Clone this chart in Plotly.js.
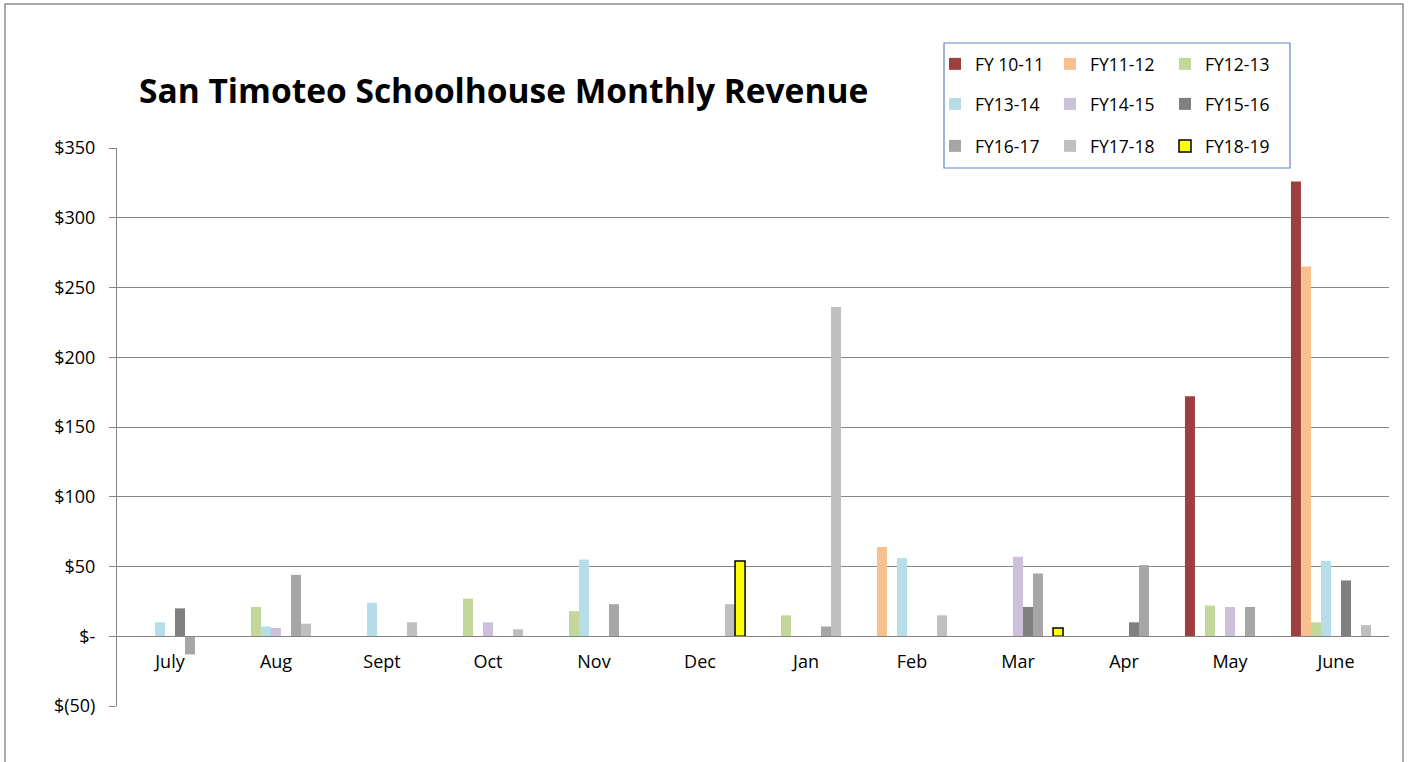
<!DOCTYPE html>
<html>
<head>
<meta charset="utf-8">
<script src="https://cdn.plot.ly/plotly-3.0.1.min.js"></script>
<style>html,body{margin:0;padding:0;background:#fff;}#chart{width:1409px;height:762px;}</style>
</head>
<body>
<div id="chart"></div>
<script>
var months = ["July","Aug","Sept","Oct","Nov","Dec","Jan","Feb","Mar","Apr","May","June"];
var seriesNames = ["FY 10-11","FY11-12","FY12-13","FY13-14","FY14-15","FY15-16","FY16-17","FY17-18","FY18-19"];
var fy1011 = [null,null,null,null,null,null,null,null,null,null,172,326];
var fy1112 = [null,null,null,null,null,null,null,64,null,null,null,265];
var fy1213 = [null,21,null,27,18,null,15,null,null,null,22,10];
var fy1314 = [10,7,24,null,55,null,null,56,null,null,null,54];
var fy1415 = [null,6,null,10,null,null,null,null,57,null,21,null];
var fy1516 = [20,null,null,null,null,null,null,null,21,10,null,40];
var fy1617 = [-13,44,null,null,23,null,7,null,45,51,21,null];
var fy1718 = [null,9,10,5,null,23,236,15,null,null,null,8];
var fy1819 = [null,null,null,null,null,54,null,null,6,null,null,null];
var yTickVals = [-50,0,50,100,150,200,250,300,350];
var yTickText = ["$(50)","$-","$50","$100","$150","$200","$250","$300","$350"];

var seriesData = [fy1011,fy1112,fy1213,fy1314,fy1415,fy1516,fy1617,fy1718,fy1819];
var colors = ["#9E3F3F","#F9C08F","#C4D79B","#B7DEE8","#CCC0DA","#808080","#A6A6A6","#BFBFBF","#FFFF00"];
var legendIds = ["legend","legend","legend","legend2","legend2","legend2","legend3","legend3","legend3"];

var FONT = "'Open Sans', 'Noto Sans', sans-serif";

var traces = seriesData.map(function(vals, i){
  return {
    type: "bar",
    name: seriesNames[i],
    x: months,
    y: vals,
    legend: legendIds[i],
    marker: {
      color: colors[i],
      line: {color: i === 8 ? "#000000" : colors[i], width: i === 8 ? 1.5 : 0}
    },
    hoverinfo: "x+y+name"
  };
});

var W = 1409, H = 762;
var L = 117, R = 1389, T = 148, B = 706;
function px(x){ return (x - L) / (R - L); }
function py(y){ return (B - y) / (B - T); }

function legendRow(yc){
  return {
    orientation: "h",
    xref: "container", yref: "container",
    x: 935 / W, xanchor: "left",
    y: 1 - yc / H, yanchor: "middle",
    entrywidth: 70, entrywidthmode: "pixels",
    bgcolor: "rgba(0,0,0,0)",
    borderwidth: 0,
    font: {family: FONT, size: 17.5, color: "#000"},
    traceorder: "normal",
    itemclick: false, itemdoubleclick: false
  };
}

var layout = {
  width: W, height: H,
  margin: {l: L, r: W - R, t: T, b: H - B, pad: 0, autoexpand: false},
  paper_bgcolor: "#ffffff",
  plot_bgcolor: "#ffffff",
  font: {family: FONT, size: 18, color: "#000"},
  title: {
    text: "<b>San Timoteo Schoolhouse Monthly Revenue</b>",
    xref: "container", yref: "container",
    x: 139 / W, xanchor: "left",
    y: 1 - 91 / H, yanchor: "middle",
    automargin: false,
    font: {family: FONT, size: 33.5, color: "#000"}
  },
  barmode: "group",
  bargap: 0.15,
  bargroupgap: 0,
  showlegend: true,
  legend: legendRow(64),
  legend2: legendRow(104),
  legend3: legendRow(146),
  xaxis: {
    type: "category",
    categoryorder: "array",
    categoryarray: months,
    anchor: "free",
    position: py(636),
    showline: true,
    linecolor: "#868686",
    linewidth: 1,
    showgrid: false,
    zeroline: false,
    ticks: "",
    ticklabelstandoff: 9,
    automargin: false,
    tickfont: {family: FONT, size: 18, color: "#000"}
  },
  yaxis: {
    range: [-50, 350],
    tickvals: yTickVals,
    ticktext: yTickText,
    showline: true,
    linecolor: "#868686",
    linewidth: 1,
    showgrid: true,
    gridcolor: "#868686",
    gridwidth: 1,
    zeroline: true,
    zerolinecolor: "#868686",
    zerolinewidth: 1,
    ticks: "outside",
    ticklen: 7,
    tickcolor: "#868686",
    ticklabelstandoff: 10,
    automargin: false,
    tickfont: {family: FONT, size: 18, color: "#000"}
  },
  shapes: [
    {type: "rect", xref: "paper", yref: "paper",
     x0: px(5), x1: px(1403), y0: py(775), y1: py(4),
     line: {color: "#8E8E8E", width: 1.5}, fillcolor: "rgba(0,0,0,0)", layer: "below"},
    {type: "rect", xref: "paper", yref: "paper",
     x0: px(944), x1: px(1290), y0: py(168), y1: py(43),
     line: {color: "#5F86BF", width: 1.2}, fillcolor: "#ffffff", layer: "above"}
  ]
};

Plotly.newPlot("chart", traces, layout, {displayModeBar: false, staticPlot: true});
</script>
</body>
</html>
